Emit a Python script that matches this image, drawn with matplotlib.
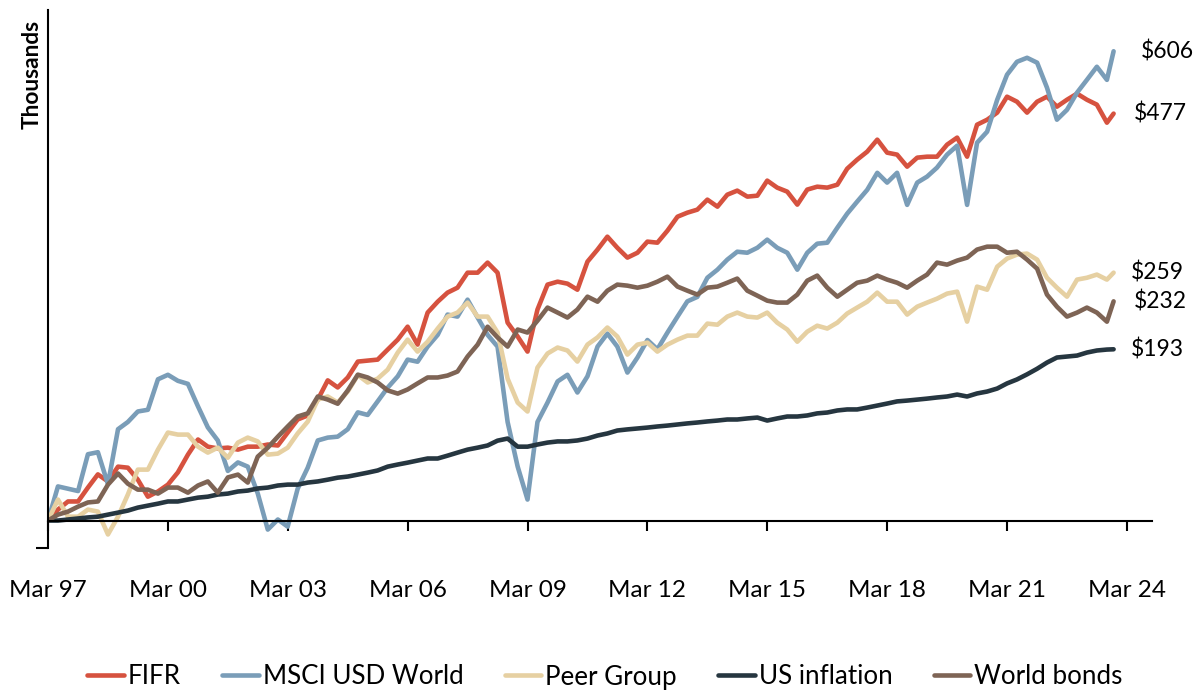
import matplotlib
matplotlib.use("Agg")
import matplotlib.pyplot as plt
import numpy as np
import pandas as pd
from matplotlib.ticker import NullLocator, FixedLocator

plt.rcParams['font.family'] = ['Lato', 'DejaVu Sans']

# quarter ends Mar 97 .. Sep 23, plus last month Nov 23
dates = list(pd.date_range('1997-03-31', '2023-09-30', freq='QE')) + [pd.Timestamp('2023-11-30')]

# growth of $100k, in thousands
fifr = [100, 104.3, 107.6, 107.6, 113.5, 119.4, 116.2, 123, 122.5, 117, 109.6, 111.8, 114.8,
        120.3, 128.8, 136.5, 132.8, 131.9, 132.3, 131.3, 132.8, 132.8, 133.9, 133.4, 140.2,
        147.4, 149.7, 159.1, 171.3, 166.7, 173.2, 184.1, 184.8, 185.5, 192.8, 200.3, 210.5,
        196.5, 222.2, 231.7, 239.9, 244.5, 259, 259, 269.2, 259, 213.8, 202.7, 191.3,
        224.8, 247.4, 250.2, 248.3, 242.6, 270.2, 283, 297.4, 285, 274.4, 279.6, 291.8,
        290.6, 304.3, 321.1, 326.1, 329.9, 342.8, 333.7, 349.4, 354.9, 346.8, 348.1, 368.8,
        359, 353.5, 336.3, 356.3, 360.3, 359, 363.1, 386.1, 399.7, 412.2, 431.6, 410.6,
        407.5, 389.1, 402.8, 404.3, 404.3, 423.4, 435, 404.3, 457.1, 465.9, 478.8, 509,
        499.3, 478.8, 499.3, 509, 489.9, 503.1, 515, 503.1, 493.7, 460.7, 477]

msci = [100, 114, 113, 112, 129, 130, 115, 142, 146, 152, 153, 172, 175,
        171, 169, 155, 143, 136, 121, 125, 123, 111, 96.6, 100.4, 97.7,
        113, 122.5, 136, 137.5, 138, 142, 151.5, 150, 158, 166.6, 174, 185.5,
        184, 195, 204, 220.5, 218.8, 233.5, 218, 204, 195, 146, 123, 108.4,
        146, 157.3, 170.6, 175, 163.5, 174, 195, 205, 195, 176.5, 187, 200,
        193, 205.8, 218.8, 232, 236, 254, 262, 272.3, 280.7, 279.6, 285, 294,
        285, 279.6, 262, 279.6, 289.5, 290.6, 307.8, 324.9, 340.2, 356, 380, 366,
        380, 336, 366, 374.5, 387.7, 407.5, 421.7, 336, 426.6, 445, 503, 553.8,
        582, 591, 580, 527, 466, 484, 517, 543, 571, 543, 606]

peer = [100, 108.4, 101.5, 101.5, 104.3, 103.5, 94.8, 101.5, 110.5, 121.6, 121.6, 131.3, 140.2,
        139.1, 139.1, 132.8, 129.8, 132.3, 127.3, 134.9, 137.5, 135.5, 128.8, 129.3, 132.3,
        139.7, 146.2, 159.1, 161, 157.3, 164.1, 174.8, 169.9, 172.4, 178.5, 190.6, 200.3,
        191.3, 198.7, 209, 218.8, 222.2, 230.9, 218.8, 218.8, 205.8, 172.4, 157.3, 152,
        179.9, 189.9, 194.3, 192.1, 184.1, 196.5, 202, 209.8, 202.7, 189.1, 196.5, 198,
        191.3, 196.5, 200.3, 203.4, 203.4, 213, 212.1, 218.8, 222.2, 218.8, 218, 222.2,
        213.8, 208.2, 198.7, 206.5, 211.3, 209, 213.8, 221.4, 226.5, 231.7, 239.9, 231.7,
        231.7, 220.5, 227.3, 230.9, 234.4, 239, 240.8, 214.6, 245.5, 242.6, 265, 273.4,
        277.6, 278.7, 272.3, 254, 244.5, 236.2, 252.2, 254, 257.1, 252.2, 259]

us_infl = [100, 100, 100.4, 100.8, 101.2, 101.5, 102.3, 103.1, 103.9, 105.1, 105.9, 106.7, 107.6,
           107.6, 108.4, 109.2, 109.6, 110.5, 110.9, 111.8, 112.2, 113.1, 113.5, 114.4, 114.8,
           114.8, 115.7, 116.2, 117, 117.9, 118.4, 119.3, 120.2, 121.2, 123, 124, 124.9,
           125.9, 126.9, 126.9, 128.3, 129.8, 131.3, 132.3, 133.4, 135.9, 137, 132.8, 132.8,
           133.9, 134.9, 135.5, 135.5, 136, 137, 138.6, 139.7, 141.3, 141.9, 142.4, 142.9,
           143.5, 144, 144.6, 145.2, 145.7, 146.3, 146.8, 147.4, 147.4, 148, 148.5, 146.8,
           148, 149.1, 149.1, 149.7, 150.9, 151.4, 152.6, 153.2, 153.2, 154.3, 155.5, 156.7,
           158, 158.5, 159.1, 159.7, 160.4, 161, 162.2, 161, 162.9, 164.1, 166, 169.3,
           171.9, 175.3, 179.1, 183.4, 187, 187.7, 188.4, 190.6, 192.1, 192.8, 193]

bonds = [100, 102.3, 103.5, 105.5, 107.2, 107.6, 114.8, 119.8, 115.2, 112.6, 112.6, 110.9, 113.5,
         113.5, 111.3, 114.4, 116.2, 111.3, 118, 119.3, 115.7, 127.8, 132.3, 138, 143.5,
         149.1, 150.9, 161, 159.1, 156.6, 164.8, 175.1, 173.2, 169.9, 164.8, 162.8, 165.4,
         169.3, 173.2, 173.2, 174.5, 177.2, 187.7, 196.5, 210.5, 202, 195, 208.2, 205.8,
         215.4, 226.5, 222.2, 218, 224.8, 236.2, 231.7, 241.7, 247.4, 246.4, 244.5, 246.4,
         250.2, 255.1, 245.5, 241.7, 238.1, 244.5, 245.5, 249.2, 253.2, 241.7, 237.1, 232.6,
         230.9, 230.9, 238.1, 251.2, 256.1, 244.5, 236.2, 242.6, 249.2, 251.2, 256.1, 252.2,
         249.2, 244.5, 251.2, 257.1, 269.2, 267.1, 271.3, 274.4, 283, 286.2, 286.2, 279.6,
         280.7, 272.3, 263, 238.1, 227.3, 218.8, 222.2, 226.5, 222.2, 214.6, 232]

names = ['FIFR', 'MSCI USD World', 'Peer Group', 'US inflation', 'World bonds']
series = [fifr, msci, peer, us_infl, bonds]
colors = ['#D6523F', '#7A9DB8', '#E6D0A2', '#263640', '#7E6455']
label_dx = [14.4, 19.4, 12.2, 12.2, 14.4]  # points right of the last value

fig = plt.figure(figsize=(11.95, 6.9), dpi=100)
ax = fig.add_axes([48 / 1195, 1 - 548 / 690, 1104 / 1195, 538 / 690])

for name, vals, c, dx in zip(names, series, colors, label_dx):
    ax.plot(dates, vals, color=c, lw=3.3, label=name, solid_capstyle='round')
    ax.annotate('$%d' % round(vals[-1]), xy=(dates[-1], vals[-1]), xytext=(dx, 0),
                textcoords='offset points', va='center', ha='left', fontsize=16.5,
                color='black', annotation_clip=False)

ax.set_yscale('log')
ax.set_ylim(90, 710)
ax.set_xlim(pd.Timestamp('1997-03-31'), pd.Timestamp('2024-11-15'))

ax.yaxis.set_major_locator(FixedLocator([90]))
ax.yaxis.set_minor_locator(NullLocator())
ax.yaxis.set_major_formatter(plt.NullFormatter())
ax.tick_params(axis='y', length=9, width=1.5, direction='out')

ticks = pd.date_range('1997-03-31', '2024-03-31', freq='36ME')
ax.set_xticks(ticks)
ax.set_xticklabels([t.strftime('%b %y') for t in ticks])
ax.xaxis.set_minor_locator(NullLocator())
ax.tick_params(axis='x', length=7, width=1.5, direction='out', pad=36, labelsize=17.5)

ax.spines['bottom'].set_position(('data', 100))
ax.spines['top'].set_visible(False)
ax.spines['right'].set_visible(False)
for s in ['left', 'bottom']:
    ax.spines[s].set_linewidth(1.5)

fig.text(32 / 1195, 1 - 20 / 690, 'Thousands', rotation=90, va='top', ha='center',
         fontsize=16.3, fontweight='bold')

fig.legend(loc='center', bbox_to_anchor=(605 / 1195, 1 - 677 / 690), ncol=5, frameon=False,
           fontsize=18.7, handlelength=1.4, handletextpad=0.15, columnspacing=1.6)

fig.savefig('out.png', dpi=100)
